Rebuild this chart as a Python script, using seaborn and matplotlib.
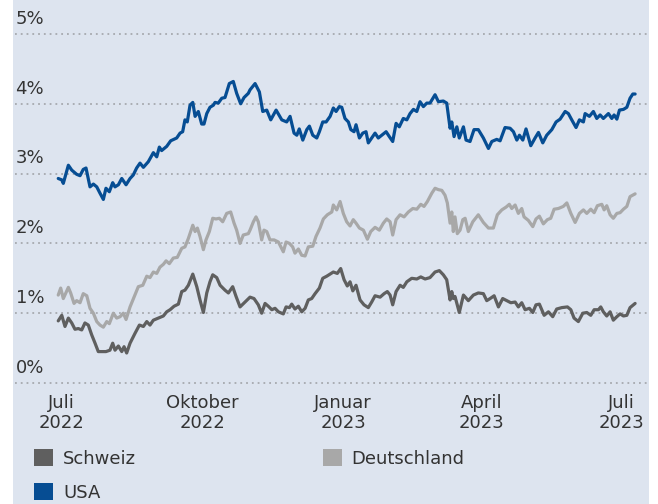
import numpy as np
import pandas as pd
import matplotlib
matplotlib.use("Agg")
import matplotlib.pyplot as plt
import matplotlib.dates as mdates
from matplotlib.patches import Rectangle, Patch
import seaborn as sns

# ---------------- data (days since 2022-07-01, yields in %) ----------------
base_date = "2022-07-01"

usa_days = [-1.8,0.5,1.5,4.8,7.0,10.2,12.4,14.5,16.3,18.9,
            21.1,23.3,25.4,27.6,29.3,31.5,33.7,35.2,37.4,39.6,
            42.4,45.0,47.1,49.3,51.5,53.7,56.9,60.2,62.4,64.1,
            65.6,68.9,71.5,75.4,77.6,79.3,80.8,82.3,84.1,85.9,
            87.4,89.5,91.7,93.2,95.0,97.1,99.3,100.4,102.5,104.8,
            106.9,109.7,112.3,114.5,117.1,119.3,122.1,123.2,126.5,129.3,
            131.5,134.1,136.7,140.2,143.9,147.1,149.3,151.9,153.7,155.3,
            157.6,160.2,161.9,164.1,166.7,168.4,170.6,172.8,175.4,177.5,
            179.3,181.4,183.0,185.1,187.3,188.9,191.0,192.3,194.5,196.7,
            198.8,200.3,202.5,204.7,206.8,209.1,211.9,214.0,216.2,218.4,
            220.5,223.1,225.4,227.5,229.7,231.9,234.0,236.2,238.4,240.5,
            243.8,246.0,249.2,251.4,253.6,254.7,256.2,258.0,259.6,262.3,
            264.0,266.6,269.2,272.0,275.3,278.6,280.8,284.0,286.2,289.4,
            292.7,294.9,297.1,298.8,301.0,303.1,306.2,309.0,311.2,314.0,
            316.6,319.9,322.7,325.3,328.6,330.7,332.9,335.7,337.9,340.5,
            341.6,344.4,347.0,349.2,351.4,353.5,356.8,359.0,360.5,362.3,
            364.0,366.6,368.8,370.9,372.7,374.2]
usa_vals = [2.93,2.91,2.86,3.12,3.05,2.99,2.97,3.06,3.08,2.81,
            2.85,2.81,2.72,2.63,2.79,2.74,2.87,2.81,2.84,2.93,
            2.84,2.93,2.98,3.08,3.15,3.09,3.17,3.30,3.24,3.38,
            3.33,3.39,3.47,3.51,3.58,3.60,3.77,3.74,3.98,4.02,
            3.82,3.89,3.71,3.71,3.86,3.95,3.98,4.02,4.01,4.08,
            4.09,4.29,4.32,4.15,4.00,4.09,4.15,4.20,4.29,4.17,
            3.89,3.91,3.77,3.91,3.77,3.74,3.82,3.58,3.55,3.64,
            3.48,3.63,3.68,3.55,3.51,3.60,3.74,3.74,3.82,3.94,
            3.89,3.96,3.95,3.79,3.74,3.63,3.60,3.70,3.51,3.58,
            3.60,3.44,3.51,3.58,3.51,3.55,3.60,3.53,3.46,3.72,
            3.67,3.79,3.77,3.86,3.92,3.89,4.03,3.96,4.01,4.01,
            4.13,4.03,4.04,4.01,3.65,3.74,3.53,3.67,3.51,3.67,
            3.48,3.46,3.63,3.63,3.51,3.36,3.46,3.49,3.47,3.66,
            3.65,3.60,3.48,3.55,3.48,3.64,3.40,3.51,3.59,3.44,
            3.55,3.63,3.74,3.78,3.89,3.86,3.77,3.66,3.77,3.74,
            3.86,3.82,3.89,3.79,3.84,3.79,3.86,3.79,3.84,3.78,
            3.91,3.92,3.95,4.08,4.14,4.14]

de_days = [-1.8,-0.2,1.5,4.8,6.3,8.5,10.2,12.4,14.5,16.8,
           18.9,21.1,23.3,25.4,27.6,29.8,31.5,34.1,36.3,38.5,
           40.6,42.4,45.0,48.2,50.4,53.3,55.9,58.0,60.2,62.4,
           64.5,66.7,68.5,70.6,73.2,75.8,78.7,80.8,83.0,85.9,
           87.4,88.9,90.6,92.8,94.5,96.7,98.9,101.0,103.2,105.4,
           108.0,110.6,112.8,114.5,116.7,118.8,122.1,123.2,125.4,127.1,
           128.6,130.8,132.3,134.1,136.2,138.9,141.7,144.9,146.7,148.9,
           151.0,152.5,154.7,156.9,159.1,161.2,164.1,166.2,168.8,171.0,
           173.6,176.5,177.5,179.7,181.9,184.0,186.2,188.4,190.5,192.3,
           194.5,197.1,199.7,201.9,204.7,207.5,210.1,212.3,214.5,216.2,
           218.4,221.0,223.6,226.4,229.3,231.9,234.5,236.6,238.8,241.7,
           243.8,246.0,248.2,250.3,251.8,253.6,254.7,255.7,256.8,258.3,
           260.1,261.9,263.4,265.5,268.4,272.0,275.3,278.6,281.8,284.4,
           287.3,290.1,292.2,293.8,296.0,298.1,300.3,301.8,304.6,307.5,
           309.6,311.8,314.4,317.0,319.2,321.4,324.2,327.4,329.7,332.3,
           335.1,337.9,340.5,342.7,345.3,347.5,349.6,352.5,354.0,355.7,
           357.9,360.0,362.3,364.4,366.6,368.8,370.9,374.2]
de_vals = [1.26,1.36,1.21,1.37,1.29,1.14,1.18,1.15,1.28,1.25,
           1.07,1.00,0.88,0.83,0.80,0.88,0.85,1.00,0.93,0.95,
           1.00,0.91,1.09,1.26,1.38,1.40,1.53,1.51,1.59,1.57,
           1.66,1.70,1.75,1.71,1.79,1.80,1.93,1.95,2.07,2.26,
           2.17,2.22,2.10,1.91,2.05,2.17,2.36,2.35,2.36,2.31,
           2.43,2.45,2.29,2.19,2.00,2.12,2.14,2.19,2.31,2.38,
           2.31,2.05,2.19,2.17,2.05,2.05,2.02,1.88,2.02,2.00,
           1.95,1.86,1.92,1.83,1.82,1.95,1.96,2.10,2.22,2.35,
           2.41,2.45,2.55,2.48,2.60,2.43,2.31,2.25,2.34,2.29,
           2.22,2.19,2.06,2.17,2.23,2.19,2.29,2.35,2.31,2.12,
           2.34,2.41,2.38,2.45,2.50,2.49,2.56,2.53,2.60,2.72,
           2.79,2.77,2.76,2.69,2.58,2.29,2.45,2.17,2.38,2.14,
           2.19,2.34,2.36,2.17,2.31,2.41,2.30,2.22,2.22,2.41,
           2.48,2.52,2.56,2.50,2.55,2.43,2.50,2.38,2.33,2.24,
           2.35,2.39,2.28,2.34,2.36,2.49,2.50,2.53,2.58,2.43,
           2.30,2.43,2.48,2.43,2.49,2.44,2.54,2.56,2.48,2.54,
           2.41,2.36,2.43,2.44,2.49,2.53,2.67,2.71]

ch_days = [-1.8,0.5,2.6,4.8,7.0,9.1,11.3,13.5,15.6,17.8,
           20.0,22.2,24.3,26.5,29.3,31.9,33.7,35.2,37.4,39.6,
           41.1,42.8,45.0,48.2,51.1,53.7,55.9,58.0,60.2,63.5,
           66.7,68.9,71.1,73.7,76.5,78.7,80.8,83.0,85.9,88.5,
           90.6,92.8,95.0,97.1,98.9,101.5,103.7,106.9,109.1,111.9,
           114.1,116.7,120.0,123.2,125.8,128.6,130.8,133.0,135.1,137.4,
           139.5,141.7,144.9,146.7,148.9,150.4,152.5,154.7,156.9,159.1,
           161.2,163.4,165.6,168.4,170.6,173.2,175.4,177.5,180.1,182.3,
           184.5,186.6,188.4,190.2,192.3,194.9,197.5,200.3,202.5,204.7,
           208.0,210.6,212.7,214.5,216.2,218.4,221.0,223.1,225.4,228.6,
           231.9,234.5,237.3,240.5,243.8,246.6,249.2,251.4,253.6,254.7,
           255.7,256.8,259.6,262.3,265.5,268.8,272.0,275.3,277.5,279.7,
           282.3,285.1,287.9,290.5,293.2,296.0,298.1,300.3,302.5,305.3,
           307.5,309.6,311.8,314.9,317.7,320.5,323.1,326.4,330.1,332.3,
           334.4,337.2,340.1,342.7,345.3,347.5,350.3,351.8,353.5,355.7,
           357.9,360.0,362.3,364.4,366.6,368.8,370.9,374.2]
ch_vals = [0.89,0.97,0.81,0.93,0.86,0.77,0.78,0.76,0.86,0.83,
           0.69,0.57,0.45,0.45,0.45,0.47,0.57,0.47,0.53,0.45,
           0.52,0.43,0.57,0.71,0.83,0.81,0.88,0.83,0.90,0.93,
           0.96,1.02,1.05,1.10,1.13,1.31,1.33,1.40,1.56,1.38,
           1.19,1.01,1.29,1.45,1.55,1.51,1.40,1.33,1.29,1.38,
           1.24,1.09,1.16,1.23,1.21,1.12,1.00,1.14,1.10,1.05,
           1.07,1.02,0.99,1.09,1.08,1.13,1.06,1.10,1.02,1.07,
           1.19,1.21,1.28,1.36,1.50,1.53,1.56,1.59,1.57,1.64,
           1.48,1.39,1.45,1.32,1.40,1.19,1.12,1.08,1.16,1.25,
           1.23,1.28,1.31,1.26,1.12,1.31,1.40,1.37,1.45,1.50,
           1.49,1.52,1.49,1.51,1.59,1.61,1.55,1.48,1.19,1.31,
           1.21,1.24,1.01,1.26,1.18,1.26,1.29,1.28,1.18,1.21,
           1.25,1.09,1.21,1.18,1.15,1.16,1.09,1.15,1.05,1.07,
           1.01,1.12,1.13,0.97,1.02,0.95,1.06,1.08,1.09,1.05,
           0.93,0.88,1.00,1.01,0.97,1.05,1.05,1.09,1.02,0.96,
           1.02,0.90,0.95,0.99,0.96,0.97,1.08,1.14]

series_names = ["Schweiz", "Deutschland", "USA"]
series_colors = ["#5f5f5f", "#a8a8a8", "#064d93"]
y_ticks = [0, 1, 2, 3, 4, 5]
y_labels = ["0%", "1%", "2%", "3%", "4%", "5%"]
x_tick_dates = ["2022-07-01", "2022-10-01", "2023-01-01", "2023-04-01", "2023-07-01"]
x_tick_labels = ["Juli\n2022", "Oktober\n2022", "Januar\n2023", "April\n2023", "Juli\n2023"]

# ---------------- build long-form table ----------------
b = pd.Timestamp(base_date)
frames = []
for name, d, v in [("Schweiz", ch_days, ch_vals), ("Deutschland", de_days, de_vals), ("USA", usa_days, usa_vals)]:
    assert len(d) == len(v), name
    frames.append(pd.DataFrame({"date": b + pd.to_timedelta(np.array(d), unit="D"),
                                "value": v, "country": name}))
df = pd.concat(frames, ignore_index=True)

# ---------------- figure ----------------
sns.set_style("white")
plt.rcParams["font.family"] = ["DejaVu Sans"]
TXT = "#333333"
BG = "#dde4ef"
FS = 13

W, H = 658, 504
fig = plt.figure(figsize=(W / 100, H / 100), dpi=100, facecolor="white")
fig.add_artist(Rectangle((13 / W, 0), (649 - 13) / W, 1, transform=fig.transFigure,
                         facecolor=BG, edgecolor="none", zorder=0))

ax_left, ax_right = 13, 649
ax_top, ax_bot = 10, 390
ax = fig.add_axes([ax_left / W, (H - ax_bot) / H, (ax_right - ax_left) / W, (ax_bot - ax_top) / H])
ax.set_facecolor("none")

ppu = 69.8  # px per percent
y0px = 383
ax.set_ylim(-(ax_bot - y0px) / ppu, (y0px - ax_top) / ppu)
ppd = 560 / 365.0
ax.set_xlim(b + pd.Timedelta(days=(ax_left - 61) / ppd), b + pd.Timedelta(days=(ax_right - 61) / ppd))

# gridlines
for t in y_ticks:
    ax.axhline(t, xmin=2 / (ax_right - ax_left), xmax=1, color="#a6a9ae",
               lw=1.3, ls=(0, (1, 2.2)), zorder=1)

sns.lineplot(data=df, x="date", y="value", hue="country", hue_order=series_names,
             palette=dict(zip(series_names, series_colors)), estimator=None, sort=False,
             lw=2.3, legend=False, ax=ax, zorder=3)

for s in ax.spines.values():
    s.set_visible(False)
ax.set_xlabel("")
ax.set_ylabel("")
ax.set_yticks([])
ax.set_xticks([pd.Timestamp(d) for d in x_tick_dates])
ax.set_xticklabels(x_tick_labels, fontsize=FS, color=TXT, linespacing=1.1)
ax.tick_params(axis="x", length=0, pad=3)

for t, lab in zip(y_ticks, y_labels):
    ax.annotate(lab, xy=(0.004, t), xycoords=("axes fraction", "data"),
                xytext=(0, 4.5), textcoords="offset points",
                ha="left", va="bottom", fontsize=FS, color=TXT)

handles = [Patch(facecolor=c, edgecolor="none", label=n) for n, c in zip(series_names, series_colors)]
order = [0, 2, 1]
leg = fig.legend([handles[i] for i in order], [series_names[i] for i in order],
                 ncol=2, loc="upper left", bbox_to_anchor=(34 / W, 1 - 449 / H),
                 frameon=False, fontsize=FS, handlelength=1.05, handleheight=1.05,
                 handletextpad=0.55, labelspacing=0.86, columnspacing=10.35,
                 borderpad=0, borderaxespad=0)
for t in leg.get_texts():
    t.set_color(TXT)

fig.savefig("out.png", dpi=100, facecolor="white")
